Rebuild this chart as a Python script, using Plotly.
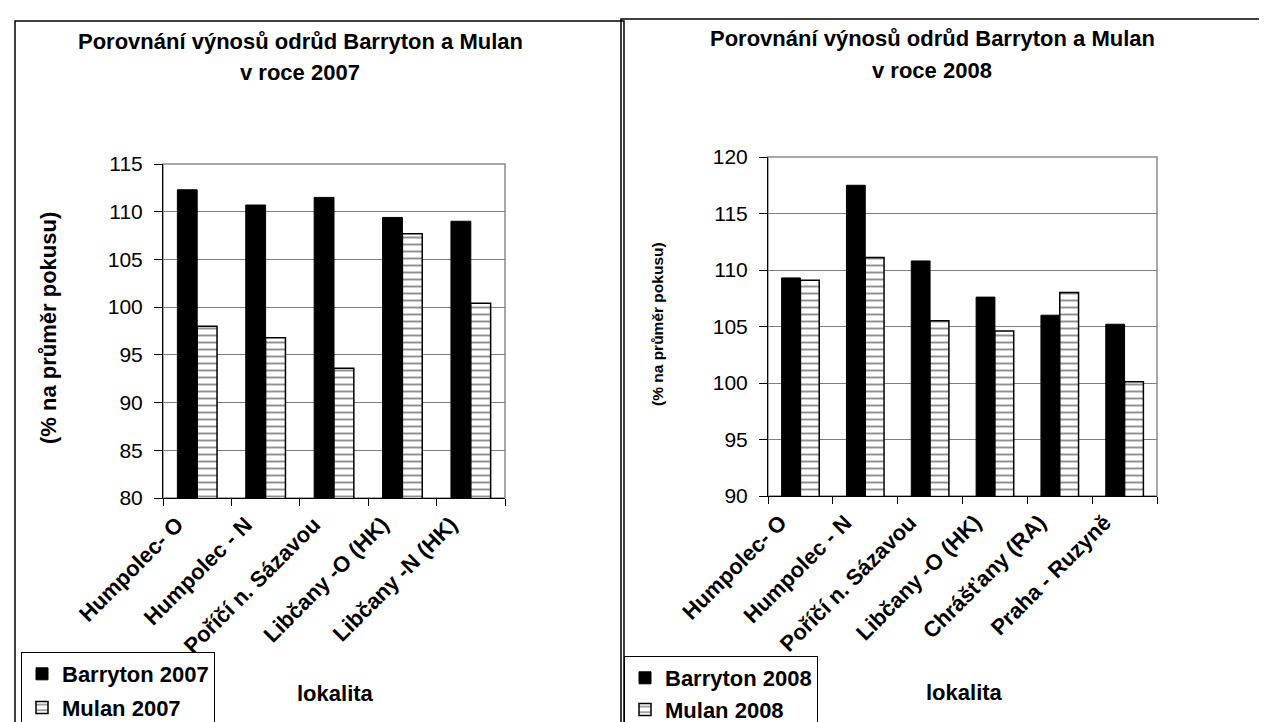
import plotly.graph_objects as go

W, H = 1267, 722

cats_2007 = ["Humpolec- O", "Humpolec - N", "Poříčí n. Sázavou", "Libčany -O (HK)", "Libčany -N (HK)"]
barryton_2007 = [112.3, 110.7, 111.5, 109.4, 109.0]
mulan_2007 = [98.0, 96.8, 93.6, 107.7, 100.4]

cats_2008 = ["Humpolec- O", "Humpolec - N", "Poříčí n. Sázavou", "Libčany -O (HK)", "Chrášťany (RA)", "Praha - Ruzyně"]
barryton_2008 = [109.3, 117.5, 110.8, 107.6, 106.0, 105.2]
mulan_2008 = [109.1, 111.1, 105.5, 104.6, 108.0, 100.1]

title_line1 = "Porovnání výnosů odrůd Barryton a Mulan"
title_2007 = "v roce 2007"
title_2008 = "v roce 2008"
y_title = "(% na průměr pokusu)"
x_title = "lokalita"

FONT = "Liberation Sans, Arial, sans-serif"

def px(x):
    return x / W

def py(y):
    return 1 - y / H

hatch = dict(shape="-", fgcolor="#222222", bgcolor="white", size=7, solidity=0.28)

fig = go.Figure()
fig.add_trace(go.Bar(x=cats_2007, y=barryton_2007, name="Barryton 2007", xaxis="x", yaxis="y",
                     marker=dict(color="black", line=dict(color="black", width=1)),
                     legend="legend", legendgroup="a"))
fig.add_trace(go.Bar(x=cats_2007, y=mulan_2007, name="Mulan 2007", xaxis="x", yaxis="y",
                     marker=dict(color="white", line=dict(color="black", width=1.5), pattern=hatch),
                     legend="legend", legendgroup="b"))
fig.add_trace(go.Bar(x=cats_2008, y=barryton_2008, name="Barryton 2008", xaxis="x2", yaxis="y2",
                     marker=dict(color="black", line=dict(color="black", width=1)),
                     legend="legend2", legendgroup="c"))
fig.add_trace(go.Bar(x=cats_2008, y=mulan_2008, name="Mulan 2008", xaxis="x2", yaxis="y2",
                     marker=dict(color="white", line=dict(color="black", width=1.5), pattern=hatch),
                     legend="legend2", legendgroup="d"))

tick_num_font = dict(family=FONT, size=21, color="black")
tick_cat_font = dict(family=FONT, size=22, color="black", weight="bold")

def xaxis_cfg(domain, anchor):
    return dict(domain=domain, anchor=anchor, type="category", showline=True, linecolor="black",
                linewidth=1, ticks="outside", ticklen=7, tickcolor="black", tickson="boundaries",
                tickangle=-45, tickfont=tick_cat_font, showgrid=False, zeroline=False, fixedrange=True,
                automargin=False, ticklabelshift=-20, ticklabelstandoff=4)

def yaxis_cfg(domain, anchor, rng):
    return dict(domain=domain, anchor=anchor, range=rng, dtick=5, showline=True, linecolor="black",
                linewidth=1, ticks="outside", ticklen=8, tickcolor="black", tickfont=tick_num_font,
                showgrid=True, gridcolor="#7f7f7f", gridwidth=1, zeroline=False, ticklabelstandoff=7,
                fixedrange=True, automargin=False)

legend_font = dict(family=FONT, size=22, color="black", weight="bold")

fig.update_layout(
    width=W, height=H, margin=dict(l=0, r=0, t=0, b=0, pad=0, autoexpand=False),
    paper_bgcolor="white", plot_bgcolor="white",
    barmode="group", bargap=0.42, bargroupgap=0,
    xaxis=xaxis_cfg([px(155), px(497)], "y"),
    yaxis=yaxis_cfg([py(490), py(156)], "x", [80, 115]),
    xaxis2=xaxis_cfg([px(760), px(1149)], "y2"),
    yaxis2=yaxis_cfg([py(488), py(149)], "x2", [90, 120]),
    legend=dict(x=px(13), y=py(644), xanchor="left", yanchor="top", bordercolor="black", borderwidth=1,
                bgcolor="white", font=legend_font, traceorder="grouped", tracegroupgap=2,
                itemclick=False, itemdoubleclick=False),
    legend2=dict(x=px(616), y=py(648), xanchor="left", yanchor="top", bordercolor="black", borderwidth=1,
                 bgcolor="white", font=legend_font, traceorder="grouped", tracegroupgap=0,
                 itemclick=False, itemdoubleclick=False),
    showlegend=True,
)

# plot area borders (gray)
for xr, yr in (("x domain", "y domain"), ("x2 domain", "y2 domain")):
    fig.add_shape(type="rect", xref=xr, yref=yr, x0=0, x1=1, y0=0, y1=1,
                  line=dict(color="#8c8c8c", width=1.5), layer="below")

# outer chart frames
fig.add_shape(type="rect", xref="paper", yref="paper", x0=px(7), x1=px(616), y0=-0.05, y1=py(13),
              line=dict(color="black", width=1.5), layer="below")
fig.add_shape(type="rect", xref="paper", yref="paper", x0=px(613), x1=1.05, y0=-0.05, y1=py(11),
              line=dict(color="black", width=1.5), layer="below")

def ann(text, x, y, size, bold=True, angle=0):
    fig.add_annotation(text=text, x=px(x), y=py(y), xref="paper", yref="paper", showarrow=False,
                       xanchor="center", yanchor="middle", textangle=angle,
                       font=dict(family=FONT, size=size, color="black", weight="bold" if bold else "normal"))

ann(title_line1, 292, 33, 22)
ann(title_2007, 292, 64, 22)
ann(title_line1, 924, 30, 22)
ann(title_2008, 924, 63, 22)
ann(y_title, 40, 320, 22, angle=-90)
ann(y_title, 649, 316, 15.5, angle=-90)
ann(x_title, 327, 685, 22)
ann(x_title, 956, 684, 22)

fig.write_html("out.html")
